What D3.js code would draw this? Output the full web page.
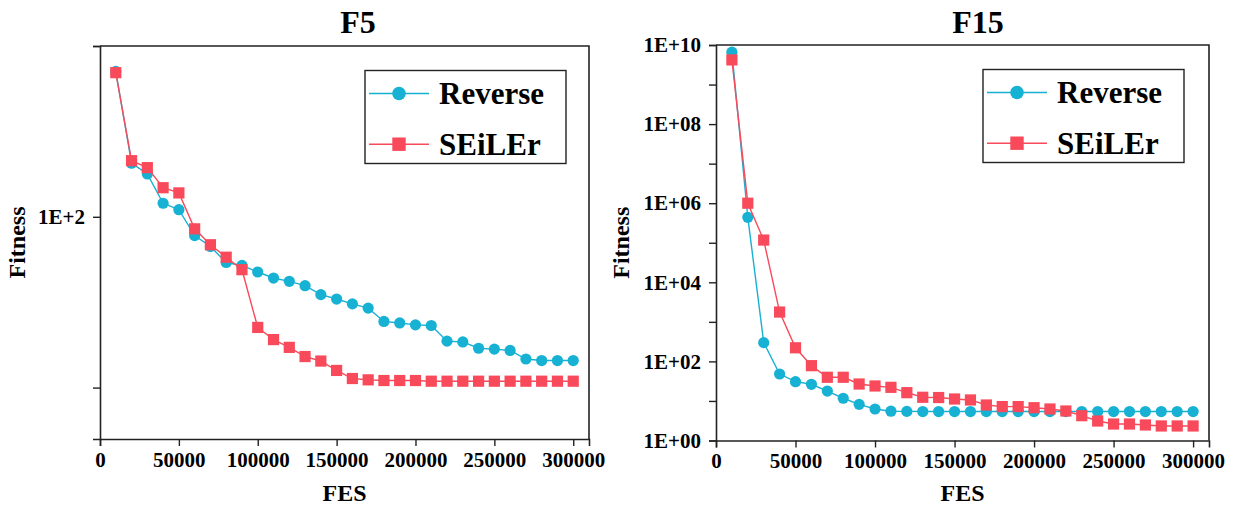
<!DOCTYPE html>
<html>
<head>
<meta charset="utf-8">
<script src="https://cdn.jsdelivr.net/npm/d3@7"></script>
<style>
  html, body { margin: 0; padding: 0; background: #fff; }
  svg { display: block; }
  text { font-family: "Liberation Serif", "Times New Roman", serif; font-weight: bold; fill: #000; }
</style>
</head>
<body>
<svg id="chart" width="1235" height="509"></svg>
<script>
// Function evaluations at which fitness was recorded
const fes = [10000, 20000, 30000, 40000, 50000, 60000, 70000, 80000, 90000, 100000,
             110000, 120000, 130000, 140000, 150000, 160000, 170000, 180000, 190000, 200000,
             210000, 220000, 230000, 240000, 250000, 260000, 270000, 280000, 290000, 300000];

// F5 convergence
const f5Reverse = [710, 206, 178, 120, 110, 77.6, 67, 54, 51.9, 47.5,
                   43.8, 41.9, 39.5, 35, 33, 30.9, 29.2, 24.4, 23.9, 23.3,
                   23.1, 18.7, 18.5, 17.0, 16.8, 16.5, 14.7, 14.4, 14.4, 14.4];
const f5Seiler = [698, 213, 194, 148, 138, 85, 68.6, 58, 49, 22.5,
                  19.1, 17.2, 15.2, 14.3, 12.6, 11.3, 11.1, 11.0, 11.0, 11.0,
                  10.9, 10.9, 10.9, 10.9, 10.9, 10.9, 10.9, 10.9, 10.9, 10.9];

// F15 convergence
const f15Reverse = [6.6e9, 4.4e5, 298, 48, 30.7, 26.4, 17.8, 11.7, 8.2, 6.26,
                    5.5, 5.45, 5.4, 5.4, 5.4, 5.4, 5.4, 5.4, 5.4, 5.4,
                    5.4, 5.4, 5.4, 5.4, 5.4, 5.4, 5.4, 5.4, 5.4, 5.4];
const f15Seiler = [4.2e9, 1.0e6, 1.17e5, 1770, 221, 78, 39.7, 39.7, 26.8, 23.9,
                   22.1, 16.2, 12.4, 12.2, 11.2, 10.6, 7.9, 7.2, 7.2, 6.75,
                   6.26, 5.57, 4.24, 3.11, 2.61, 2.61, 2.47, 2.33, 2.33, 2.33];

const xTicks = [0, 50000, 100000, 150000, 200000, 250000, 300000];
const f5YTicks = [10, 100, 1000];
const f5YLabels = ["", "1E+2", ""];
const f15YTicks = [1, 10, 100, 1e3, 1e4, 1e5, 1e6, 1e7, 1e8, 1e9, 1e10];
const f15YLabels = ["1E+00", "", "1E+02", "", "1E+04", "", "1E+06", "", "1E+08", "", "1E+10"];

const seriesNames = ["Reverse", "SEiLEr"];
const COLORS = { Reverse: "#17b1d3", SEiLEr: "#f84a5a" };

const svg = d3.select("#chart");

function styleTickText(sel) {
  sel.style("font-size", "21px")
    .style("font-family", '"Liberation Serif", "Times New Roman", serif')
    .style("font-weight", "bold").attr("fill", "#000");
}

function drawPanel(cfg) {
  const { left, right, top, bottom } = cfg.box;
  const g = svg.append("g");

  const x = d3.scaleLinear().domain([0, 310000]).range([left, right]);
  const y = d3.scaleLog().domain(cfg.yDomain).range([bottom, top]);

  // Frame (top and right sides)
  g.append("path")
    .attr("d", `M${left},${top}H${right}V${bottom}`)
    .attr("fill", "none").attr("stroke", "#222").attr("stroke-width", 1.6);

  // X axis
  const xAxis = d3.axisBottom(x).tickValues(xTicks).tickSize(7).tickPadding(6)
    .tickFormat(d3.format("d"));
  const xg = g.append("g").attr("transform", `translate(0,${bottom})`).call(xAxis);
  xg.select(".domain").attr("stroke", "#222").attr("stroke-width", 1.6);
  xg.selectAll(".tick line").attr("stroke", "#222").attr("stroke-width", 1.4);
  styleTickText(xg.selectAll(".tick text"));

  // Y axis (log)
  const yAxis = d3.axisLeft(y).tickValues(cfg.yTicks).tickSize(7).tickPadding(8)
    .tickFormat((d, i) => cfg.yLabels[i]);
  const yg = g.append("g").attr("transform", `translate(${left},0)`).call(yAxis);
  yg.select(".domain").attr("stroke", "#222").attr("stroke-width", 1.6);
  yg.selectAll(".tick line").attr("stroke", "#222").attr("stroke-width", 1.4);
  styleTickText(yg.selectAll(".tick text"));

  // Titles
  g.append("text").attr("x", cfg.titleX).attr("y", 33).attr("text-anchor", "middle")
    .style("font-size", "32px").text(cfg.title);
  g.append("text").attr("x", (left + right) / 2).attr("y", 501).attr("text-anchor", "middle")
    .style("font-size", "24px").text("FES");
  g.append("text")
    .attr("transform", `translate(${cfg.ylabelX},${(top + bottom) / 2}) rotate(-90)`)
    .attr("text-anchor", "middle").style("font-size", "24px").text("Fitness");

  // Series
  const line = d3.line().x(d => x(d[0])).y(d => y(d[1]));
  cfg.series.forEach(s => {
    const pts = fes.map((f, i) => [f, s.values[i]]);
    const col = COLORS[s.name];
    g.append("path").datum(pts).attr("d", line)
      .attr("fill", "none").attr("stroke", col).attr("stroke-width", 1.4);
    if (s.name === "Reverse") {
      g.selectAll(null).data(pts).enter().append("circle")
        .attr("cx", d => x(d[0])).attr("cy", d => y(d[1])).attr("r", 5.6).attr("fill", col);
    } else {
      g.selectAll(null).data(pts).enter().append("rect")
        .attr("x", d => x(d[0]) - 5.6).attr("y", d => y(d[1]) - 5.6)
        .attr("width", 11.2).attr("height", 11.2).attr("fill", col);
    }
  });

  // Legend
  const L = cfg.legend;
  const lg = g.append("g");
  lg.append("rect").attr("x", L.x).attr("y", L.y).attr("width", 201).attr("height", 93)
    .attr("fill", "#fff").attr("stroke", "#222").attr("stroke-width", 1.4);
  seriesNames.forEach((name, i) => {
    const cy = L.y + 23 + i * 50.7;
    const col = COLORS[name];
    lg.append("line").attr("x1", L.x + 4).attr("x2", L.x + 64).attr("y1", cy).attr("y2", cy)
      .attr("stroke", col).attr("stroke-width", 1.4);
    if (name === "Reverse") {
      lg.append("circle").attr("cx", L.x + 34).attr("cy", cy).attr("r", 6.8).attr("fill", col);
    } else {
      lg.append("rect").attr("x", L.x + 27.3).attr("y", cy - 6.7).attr("width", 13.4).attr("height", 13.4)
        .attr("fill", col);
    }
    lg.append("text").attr("x", L.x + 74).attr("y", cy).attr("dy", "0.34em")
      .style("font-size", "31px").text(name);
  });
}

drawPanel({
  title: "F5", titleX: 358, ylabelX: 25,
  box: { left: 100, right: 589, top: 46, bottom: 439 },
  yDomain: [5, 1000], yTicks: f5YTicks, yLabels: f5YLabels,
  series: [{ name: "Reverse", values: f5Reverse }, { name: "SEiLEr", values: f5Seiler }],
  legend: { x: 365, y: 70.5 }
});

drawPanel({
  title: "F15", titleX: 978, ylabelX: 629,
  box: { left: 716, right: 1209, top: 45, bottom: 440.5 },
  yDomain: [1, 1e10], yTicks: f15YTicks, yLabels: f15YLabels,
  series: [{ name: "Reverse", values: f15Reverse }, { name: "SEiLEr", values: f15Seiler }],
  legend: { x: 983, y: 69.5 }
});
</script>
</body>
</html>
